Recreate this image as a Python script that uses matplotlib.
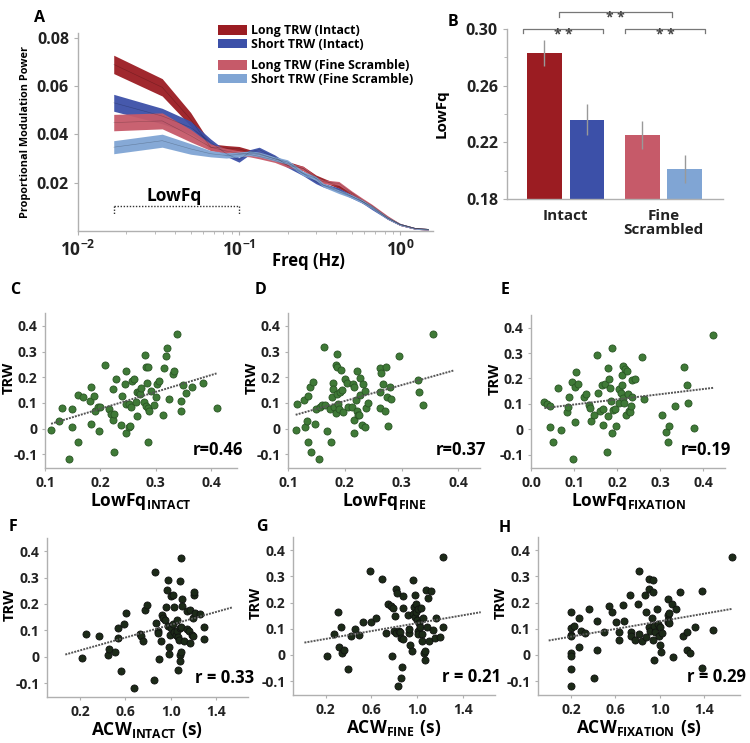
import numpy as np
import matplotlib
matplotlib.use("Agg")
import matplotlib.pyplot as plt
from matplotlib.patches import Patch

plt.rcParams['font.family'] = ['Open Sans', 'DejaVu Sans']
plt.rcParams['font.weight'] = 'bold'
plt.rcParams['mathtext.fontset'] = 'custom'
plt.rcParams['mathtext.rm'] = 'Open Sans'
plt.rcParams['mathtext.bf'] = 'Open Sans:bold'

# ---------------- panel A data: spectra ----------------
k = np.array([1, 2, 3, 4, 5, 6, 7, 8, 10, 12, 15, 18, 20, 25, 30, 35, 40, 50, 60, 75, 90])
freq = k / 60.0
long_intact = [0.0690, 0.0595, 0.0463, 0.0347, 0.0343, 0.0340, 0.0327, 0.0320, 0.0299, 0.0279, 0.0259,
               0.0224, 0.0211, 0.0184, 0.0156, 0.0122, 0.0102, 0.0054, 0.0027, 0.0010, 0.0007]
short_intact = [0.0531, 0.0476, 0.0429, 0.0367, 0.0320, 0.0295, 0.0327, 0.0337, 0.0306, 0.0272, 0.0238,
                0.0204, 0.0190, 0.0170, 0.0143, 0.0122, 0.0095, 0.0054, 0.0027, 0.0010, 0.0007]
long_fine = [0.0449, 0.0456, 0.0395, 0.0347, 0.0331, 0.0322, 0.0317, 0.0309, 0.0293, 0.0272, 0.0259,
             0.0218, 0.0204, 0.0197, 0.0159, 0.0129, 0.0105, 0.0059, 0.0027, 0.0010, 0.0007]
short_fine = [0.0347, 0.0374, 0.0340, 0.0320, 0.0313, 0.0317, 0.0322, 0.0317, 0.0299, 0.0286, 0.0238,
              0.0218, 0.0190, 0.0163, 0.0143, 0.0122, 0.0099, 0.0054, 0.0027, 0.0010, 0.0007]
hw_long_intact = [0.0038, 0.0036, 0.0028, 0.0014, 0.0011, 0.0010, 0.0010, 0.0010, 0.0009, 0.0009, 0.0009,
                  0.0008, 0.0008, 0.0008, 0.0007, 0.0007, 0.0006, 0.0005, 0.0004, 0.0003, 0.0003]
hw_short_intact = [0.0035, 0.0032, 0.0026, 0.0014, 0.0011, 0.0010, 0.0010, 0.0010, 0.0009, 0.0009, 0.0009,
                   0.0008, 0.0008, 0.0008, 0.0007, 0.0007, 0.0006, 0.0005, 0.0004, 0.0003, 0.0003]
hw_long_fine = [0.0034, 0.0033, 0.0026, 0.0014, 0.0011, 0.0010, 0.0010, 0.0010, 0.0009, 0.0009, 0.0009,
                0.0008, 0.0008, 0.0008, 0.0007, 0.0007, 0.0006, 0.0005, 0.0004, 0.0003, 0.0003]
hw_short_fine = [0.0027, 0.0027, 0.0022, 0.0013, 0.0011, 0.0010, 0.0010, 0.0010, 0.0009, 0.0009, 0.0009,
                 0.0008, 0.0008, 0.0008, 0.0007, 0.0007, 0.0006, 0.0005, 0.0004, 0.0003, 0.0003]

# ---------------- panel B data: bars ----------------
bar_labels = ['Long TRW (Intact)', 'Short TRW (Intact)', 'Long TRW (Fine Scramble)', 'Short TRW (Fine Scramble)']
bar_vals = [0.283, 0.236, 0.225, 0.201]
bar_err = [0.009, 0.011, 0.010, 0.010]
group_labels = ['Intact', 'Fine\nScrambled']

# ---------------- scatter data ----------------
c_x = [0.111, 0.126, 0.131, 0.144, 0.148, 0.148, 0.16, 0.16, 0.169, 0.183, 0.182, 0.189, 0.19, 0.184, 0.196,
       0.2, 0.198, 0.209, 0.215, 0.22, 0.222, 0.223, 0.224, 0.228, 0.225, 0.237, 0.24, 0.244, 0.247, 0.247,
       0.246, 0.251, 0.254, 0.252, 0.257, 0.256, 0.261, 0.264, 0.266, 0.266, 0.27, 0.272, 0.273, 0.279, 0.281,
       0.283, 0.287, 0.284, 0.283, 0.286, 0.288, 0.286, 0.291, 0.297, 0.3, 0.303, 0.306, 0.315, 0.314, 0.318,
       0.321, 0.325, 0.331, 0.333, 0.338, 0.345, 0.345, 0.349, 0.354, 0.366, 0.386, 0.41]
c_y = [-0.006, 0.028, 0.082, -0.117, 0.076, 0.006, -0.053, 0.13, 0.122, 0.161, 0.108, 0.126, 0.067, 0.018, 0.084,
       0.084, -0.009, 0.246, 0.076, 0.057, 0.156, 0.035, 0.057, 0.194, -0.09, 0.015, 0.126, 0.172, 0.224, 0.095,
       -0.018, 0.006, 0.01, 0.095, 0.185, 0.086, 0.193, 0.103, 0.049, 0.143, 0.142, 0.135, 0.159, 0.102, 0.288,
       0.239, 0.239, 0.176, 0.09, 0.08, 0.069, -0.05, 0.147, 0.093, 0.125, 0.175, 0.187, 0.236, 0.054, 0.282,
       0.315, 0.115, 0.214, 0.225, 0.368, 0.067, 0.108, 0.17, 0.139, 0.161, 0.176, 0.08]
c_fit = ([0.111, 0.41], [0.019, 0.215])

d_x = [0.1135, 0.115, 0.129, 0.13, 0.134, 0.135, 0.136, 0.138, 0.141, 0.144, 0.147, 0.15, 0.154, 0.156, 0.159,
       0.164, 0.166, 0.168, 0.174, 0.176, 0.177, 0.179, 0.179, 0.181, 0.184, 0.186, 0.186, 0.185, 0.187, 0.188,
       0.189, 0.192, 0.194, 0.195, 0.197, 0.2, 0.203, 0.206, 0.212, 0.215, 0.216, 0.217, 0.217, 0.219, 0.221,
       0.222, 0.224, 0.225, 0.226, 0.227, 0.231, 0.232, 0.235, 0.235, 0.237, 0.241, 0.262, 0.262, 0.262, 0.263,
       0.267, 0.271, 0.273, 0.275, 0.276, 0.279, 0.282, 0.295, 0.328, 0.331, 0.337, 0.356]
d_y = [-0.005, 0.095, 0.11, 0.006, 0.028, 0.128, -0.053, 0.161, -0.09, 0.183, 0.018, 0.077, -0.117, 0.086, 0.092,
       0.317, 0.094, -0.008, 0.076, -0.05, 0.125, 0.177, 0.154, 0.083, 0.248, 0.289, 0.239, 0.061, 0.135, 0.097,
       0.077, 0.144, 0.227, 0.15, 0.065, 0.195, 0.177, 0.086, 0.086, 0.175, 0.164, 0.032, -0.017, 0.111, 0.226,
       0.068, 0.054, 0.052, 0.197, 0.13, 0.015, 0.172, 0.146, 0.005, 0.08, 0.1, 0.08, 0.235, 0.142, 0.216,
       0.172, 0.07, 0.241, 0.125, 0.012, 0.161, 0.116, 0.283, 0.188, 0.141, 0.093, 0.369]
d_fit = ([0.1135, 0.391], [0.054, 0.226])

e_x = [0.031, 0.038, 0.043, 0.045, 0.051, 0.062, 0.069, 0.083, 0.085, 0.087, 0.096, 0.102, 0.098, 0.103, 0.105,
       0.108, 0.122, 0.128, 0.135, 0.138, 0.14, 0.145, 0.152, 0.155, 0.159, 0.164, 0.167, 0.168, 0.171, 0.177,
       0.178, 0.179, 0.182, 0.184, 0.187, 0.185, 0.188, 0.19, 0.195, 0.198, 0.204, 0.205, 0.209, 0.212, 0.21,
       0.213, 0.214, 0.215, 0.217, 0.22, 0.223, 0.225, 0.227, 0.229, 0.233, 0.235, 0.241, 0.235, 0.262, 0.258,
       0.303, 0.313, 0.318, 0.32, 0.334, 0.355, 0.362, 0.364, 0.379, 0.423]
e_y = [0.108, 0.1, 0.092, 0.007, -0.052, 0.161, -0.005, 0.068, 0.087, 0.127, 0.185, 0.168, -0.118, 0.029, 0.226,
       0.177, 0.127, 0.14, 0.096, 0.085, 0.033, 0.055, 0.291, 0.144, 0.072, 0.173, 0.08, 0.017, 0.177, -0.09,
       0.05, 0.243, 0.197, 0.163, -0.017, 0.11, 0.319, 0.076, 0.079, 0.013, 0.157, 0.104, 0.142, 0.215, 0.175,
       0.249, 0.122, 0.102, 0.238, 0.056, 0.23, 0.139, 0.073, 0.066, 0.091, 0.192, 0.196, 0.126, 0.117, 0.286,
       0.055, -0.01, -0.051, 0.014, 0.093, 0.244, 0.175, 0.104, 0.003, 0.371]
e_fit = ([0.031, 0.423], [0.083, 0.163])

f_x = [0.22, 0.253, 0.368, 0.45, 0.456, 0.508, 0.538, 0.538, 0.562, 0.588, 0.603, 0.676, 0.729, 0.735, 0.753,
       0.774, 0.791, 0.856, 0.862, 0.871, 0.888, 0.891, 0.9, 0.915, 0.921, 0.932, 0.947, 0.959, 0.971, 0.974,
       0.976, 0.985, 0.982, 0.994, 1.0, 1.006, 1.018, 1.021, 1.026, 1.032, 1.044, 1.053, 1.059, 1.065, 1.068,
       1.074, 1.082, 1.082, 1.085, 1.085, 1.088, 1.091, 1.094, 1.097, 1.1, 1.118, 1.141, 1.147, 1.159, 1.171,
       1.176, 1.191, 1.2, 1.2, 1.206, 1.209, 1.218, 1.259, 1.294, 1.294]
f_y = [-0.004, 0.085, 0.078, 0.008, 0.028, 0.018, 0.109, 0.07, -0.053, 0.125, 0.165, -0.119, 0.087, 0.077, 0.059,
       0.176, 0.196, -0.09, 0.321, 0.129, 0.096, 0.089, -0.008, 0.059, 0.157, 0.147, 0.138, 0.189, 0.251, 0.292,
       0.116, 0.011, 0.035, 0.084, 0.108, 0.23, 0.235, 0.124, 0.19, 0.095, 0.081, 0.14, 0.097, 0.076, -0.049,
       0.065, 0.109, 0.286, 0.006, -0.018, 0.016, 0.373, 0.114, 0.218, 0.191, 0.058, 0.175, 0.105, 0.097, 0.052,
       0.178, 0.084, 0.077, 0.146, 0.232, 0.246, 0.165, 0.163, 0.111, 0.067]
f_fit = ([0.068, 1.547], [0.008, 0.187])

g_x = [0.212, 0.27, 0.311, 0.319, 0.337, 0.343, 0.361, 0.399, 0.425, 0.46, 0.492, 0.527, 0.601, 0.586, 0.645,
       0.692, 0.724, 0.747, 0.768, 0.783, 0.791, 0.797, 0.806, 0.812, 0.82, 0.829, 0.835, 0.841, 0.855, 0.861,
       0.864, 0.87, 0.879, 0.879, 0.879, 0.923, 0.929, 0.932, 0.937, 0.955, 0.967, 0.967, 0.978, 0.981, 0.984,
       0.987, 0.99, 0.996, 1.005, 1.008, 1.011, 1.016, 1.025, 1.031, 1.04, 1.046, 1.051, 1.06, 1.066, 1.069,
       1.078, 1.084, 1.095, 1.101, 1.122, 1.142, 1.157, 1.166, 1.201, 1.23, 1.23]
g_y = [-0.004, 0.078, 0.163, 0.029, 0.108, 0.008, 0.018, -0.053, 0.072, 0.097, 0.077, 0.125, 0.127, 0.319, 0.141,
       0.291, 0.083, 0.195, 0.188, -0.006, 0.179, 0.091, 0.148, 0.251, 0.084, 0.238, -0.117, 0.09, 0.088, 0.063,
       -0.09, -0.048, 0.223, 0.178, 0.059, 0.154, 0.082, 0.1, 0.039, 0.014, 0.286, 0.155, 0.184, 0.144, 0.229,
       0.193, 0.165, 0.132, 0.175, 0.092, 0.079, 0.122, 0.105, 0.179, 0.078, 0.054, 0.14, 0.006, 0.015, -0.018,
       0.246, 0.108, 0.216, 0.054, 0.245, 0.095, 0.066, 0.142, 0.069, 0.106, 0.372]
g_fit = ([0.013, 1.559], [0.047, 0.163])

h_x = [0.197, 0.2, 0.203, 0.203, 0.2, 0.2, 0.2, 0.2, 0.23, 0.269, 0.272, 0.293, 0.329, 0.365, 0.404, 0.434,
       0.434, 0.5, 0.539, 0.566, 0.605, 0.635, 0.635, 0.671, 0.674, 0.734, 0.74, 0.743, 0.776, 0.803, 0.809,
       0.812, 0.839, 0.868, 0.874, 0.874, 0.901, 0.901, 0.904, 0.91, 0.925, 0.937, 0.937, 0.937, 0.943, 0.949,
       0.958, 0.973, 0.979, 0.994, 0.997, 1.003, 1.009, 1.015, 1.072, 1.075, 1.075, 1.075, 1.078, 1.078, 1.108,
       1.114, 1.144, 1.18, 1.21, 1.243, 1.243, 1.272, 1.314, 1.377, 1.377, 1.481, 1.652]
h_y = [0.162, 0.101, 0.076, 0.072, 0.009, -0.004, -0.053, -0.118, 0.11, 0.141, 0.03, 0.091, 0.084, 0.175, -0.089,
       0.128, 0.018, 0.089, 0.185, 0.162, 0.125, 0.058, 0.087, 0.19, 0.128, 0.227, 0.086, 0.074, 0.058, 0.194,
       0.32, 0.079, 0.052, 0.228, 0.165, 0.068, 0.251, 0.105, 0.291, 0.091, 0.142, 0.286, 0.24, 0.058, -0.019,
       0.112, 0.087, 0.175, 0.117, 0.074, 0.106, 0.037, 0.013, 0.082, 0.214, 0.151, 0.135, 0.127, 0.159, 0.12,
       0.193, -0.008, 0.176, 0.241, 0.072, 0.088, 0.019, 0.009, 0.105, 0.243, -0.049, 0.096, 0.372]
h_fit = ([0.0, 1.652], [0.055, 0.176])

r_text = ['r=0.46', 'r=0.37', 'r=0.19', 'r = 0.33', 'r = 0.21', 'r = 0.29']

col_li = '#9b1c22'
col_si = '#3c50a8'
col_lf = '#c65a69'
col_sf = '#80a5d4'
spine_col = '#b0b0b0'

W, H = 750, 743
fig = plt.figure(figsize=(7.5, 7.43), dpi=100)


def box(l, t, r, b):
    return [l / W, 1 - b / H, (r - l) / W, (b - t) / H]


def style_axes(ax):
    for s in ['top', 'right']:
        ax.spines[s].set_visible(False)
    for s in ['left', 'bottom']:
        ax.spines[s].set_color(spine_col)
        ax.spines[s].set_linewidth(1.0)
    ax.tick_params(colors=spine_col, labelcolor='#222222', length=3, width=0.8)


# ---------------- A ----------------
axA = fig.add_axes(box(78, 33, 433, 231))
style_axes(axA)
curves = [(long_intact, hw_long_intact, col_li), (short_intact, hw_short_intact, col_si),
          (long_fine, hw_long_fine, col_lf), (short_fine, hw_short_fine, col_sf)]
for vals, hw, c in curves:
    v = np.array(vals)
    h = np.array(hw)
    axA.fill_between(freq, v - h, v + h, color=c, lw=0, alpha=0.95)
    axA.plot(freq, v, color='k', lw=0.4, alpha=0.25)
axA.set_xscale('log')
axA.set_xlim(0.01, 1.6)
axA.set_ylim(0, 0.082)
axA.set_xticks([0.01, 0.1, 1])
axA.set_xticklabels([r'$\mathbf{10}^{\mathbf{-2}}$', r'$\mathbf{10}^{\mathbf{-1}}$', r'$\mathbf{10}^{\mathbf{0}}$'],
                    fontsize=12.5)
axA.tick_params(axis='x', which='minor', length=2, colors=spine_col)
axA.set_yticks([0.02, 0.04, 0.06, 0.08])
axA.set_yticklabels(['0.02', '0.04', '0.06', '0.08'], fontsize=11.5, fontweight='bold')
axA.set_ylabel('Proportional Modulation Power', fontsize=7.8, fontweight='bold', labelpad=4)
axA.set_xlabel('Freq (Hz)', fontsize=12, fontweight='bold')
axA.xaxis.set_label_coords(0.648, -0.105)
# LowFq bracket
lf_lo, lf_hi, lf_y, lf_tick = 1 / 60, 0.1, 0.0102, 0.0068
axA.plot([lf_lo, lf_hi], [lf_y, lf_y], color='#333333', lw=1, ls=(0, (1, 1.2)))
axA.plot([lf_lo, lf_lo], [lf_y, lf_tick], color='#333333', lw=1, ls=(0, (1, 1.2)))
axA.plot([lf_hi, lf_hi], [lf_y, lf_tick], color='#333333', lw=1, ls=(0, (1, 1.2)))
axA.text(np.sqrt(lf_lo * lf_hi) * 0.97, 0.0147, 'LowFq', ha='center', va='center', fontsize=12.5,
         fontweight='bold')

h1 = [Patch(facecolor=col_li, label=bar_labels[0]), Patch(facecolor=col_si, label=bar_labels[1])]
h2 = [Patch(facecolor=col_lf, label=bar_labels[2]), Patch(facecolor=col_sf, label=bar_labels[3])]
leg_kw = dict(frameon=False, prop={'weight': 'bold', 'size': 8.9}, handlelength=2.3,
              handleheight=0.85, handletextpad=0.35, labelspacing=0.05, borderpad=0,
              bbox_transform=fig.transFigure, loc='upper left')
leg1 = axA.legend(handles=h1, bbox_to_anchor=(212 / W, 1 - 18 / H), **leg_kw)
axA.add_artist(leg1)
axA.legend(handles=h2, bbox_to_anchor=(212 / W, 1 - 53 / H), **leg_kw)

# ---------------- B ----------------
axB = fig.add_axes(box(507, 29, 723, 199))
style_axes(axB)
xpos = [0, 1, 2.3, 3.3]
axB.bar(xpos, bar_vals, width=0.82, color=[col_li, col_si, col_lf, col_sf])
axB.errorbar(xpos, bar_vals, yerr=bar_err, fmt='none', ecolor='#999999', elinewidth=1, capsize=0)
axB.set_xlim(-0.88, 4.2)
axB.set_ylim(0.18, 0.30)
axB.set_yticks([0.18, 0.22, 0.26, 0.30])
axB.set_yticks([0.20, 0.24, 0.28], minor=True)
axB.set_yticklabels(['0.18', '0.22', '0.26', '0.30'], fontsize=11.5, fontweight='bold')
axB.tick_params(axis='y', which='minor', length=2, colors=spine_col)
axB.set_xticks([0.5, 2.8])
axB.set_xticklabels(group_labels, fontsize=11, fontweight='bold', linespacing=1.0)
axB.tick_params(axis='x', length=0, pad=7)
axB.set_ylabel('LowFq', fontsize=11, fontweight='bold')
axB.yaxis.set_label_coords(-0.27, 0.5)


def bracket(ax, x0, x1, y, drop, star_y):
    ax.plot([x0, x0, x1, x1], [y - drop, y, y, y - drop], color='#777777', lw=0.9, clip_on=False)
    ax.text((x0 + x1) / 2, star_y, '* *', ha='center', va='center', fontsize=10, color='#444444',
            clip_on=False)


bracket(axB, -0.51, 1.38, 0.300, 0.003, 0.2955)
bracket(axB, 1.89, 3.78, 0.300, 0.003, 0.2955)
bracket(axB, 0.34, 2.99, 0.3118, 0.003, 0.3075)

# ---------------- scatters ----------------
green = '#3f7a37'
green_edge = '#2a5525'
dark = '#1c2a18'
panels = [
    (box(45, 313, 237, 468), c_x, c_y, c_fit, (0.1, 0.447), [0.1, 0.2, 0.3, 0.4], ['0.1', '0.2', '0.3', '0.4'],
     r'$\mathbf{LowFq}_{\mathbf{INTACT}}$', green, green_edge),
    (box(288, 313, 480, 468), d_x, d_y, d_fit, (0.1, 0.438), [0.1, 0.2, 0.3, 0.4], ['0.1', '0.2', '0.3', '0.4'],
     r'$\mathbf{LowFq}_{\mathbf{FINE}}$', green, green_edge),
    (box(531, 315, 725, 468), e_x, e_y, e_fit, (0.0, 0.45), [0.0, 0.1, 0.2, 0.3, 0.4],
     ['0.0', '0.1', '0.2', '0.3', '0.4'], r'$\mathbf{LowFq}_{\mathbf{FIXATION}}$', green, green_edge),
    (box(47, 538, 248, 697), f_x, f_y, f_fit, (-0.094, 1.685), [0.2, 0.6, 1.0, 1.4], ['0.2', '0.6', '1.0', '1.4'],
     r'$\mathbf{ACW}_{\mathbf{INTACT}}\ \mathbf{(s)}$', dark, '#111111'),
    (box(293, 537, 495, 695), g_x, g_y, g_fit, (-0.087, 1.684), [0.2, 0.6, 1.0, 1.4], ['0.2', '0.6', '1.0', '1.4'],
     r'$\mathbf{ACW}_{\mathbf{FINE}}\ \mathbf{(s)}$', dark, '#111111'),
    (box(538, 537, 740, 695), h_x, h_y, h_fit, (-0.096, 1.72), [0.2, 0.6, 1.0, 1.4], ['0.2', '0.6', '1.0', '1.4'],
     r'$\mathbf{ACW}_{\mathbf{FIXATION}}\ \mathbf{(s)}$', dark, '#111111'),
]
for i, (pos, xs, ys, fit, xl, xt, xtl, xlab, fc, ec) in enumerate(panels):
    ax = fig.add_axes(pos)
    style_axes(ax)
    ax.scatter(xs, ys, s=26, c=fc, edgecolors=ec, linewidths=0.6, zorder=2)
    ax.plot(fit[0], fit[1], color='#555555', lw=1.4, ls=(0, (1, 0.6)), zorder=3)
    ax.set_xlim(*xl)
    ax.set_ylim(-0.153, 0.45)
    ax.set_xticks(xt)
    ax.set_xticklabels(xtl, fontsize=10, fontweight='bold')
    ax.set_yticks([-0.1, 0, 0.1, 0.2, 0.3, 0.4])
    ax.set_yticklabels(['-0.1', '0', '0.1', '0.2', '0.3', '0.4'], fontsize=10, fontweight='bold')
    ax.tick_params(length=2)
    ax.set_ylabel('TRW', fontsize=10.5, fontweight='bold')
    ax.yaxis.set_label_coords(-0.15, 0.58)
    ax.set_xlabel(xlab, fontsize=12.5, labelpad=1)
    ax.text(1.03, 0.06, r_text[i], transform=ax.transAxes, ha='right', va='bottom', fontsize=12,
            fontweight='bold')

# panel letters
letters = [('A', 40, 18), ('B', 453, 22), ('C', 15, 290), ('D', 260, 290), ('E', 505, 290),
           ('F', 13, 527), ('G', 262, 527), ('H', 505, 528)]
for t, x, y in letters:
    fig.text(x / W, 1 - y / H, t, ha='center', va='center', fontsize=11.5, fontweight='bold')

fig.savefig('out.png', dpi=100)
